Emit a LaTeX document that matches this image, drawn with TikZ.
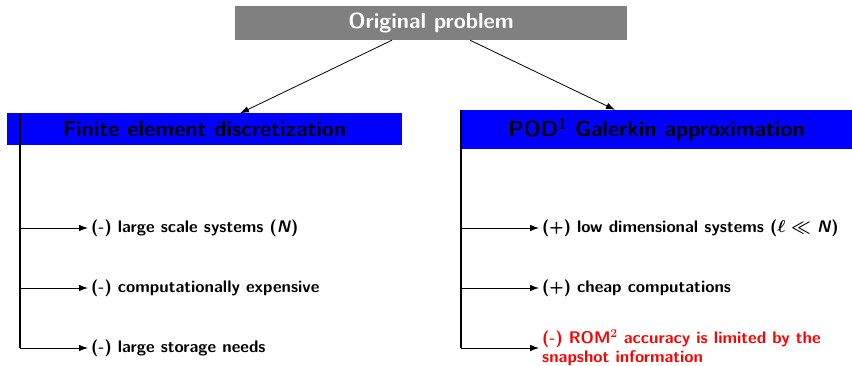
\documentclass[tikz,border=0pt]{standalone}
\usepackage{amsmath}
\usetikzlibrary{arrows.meta}
\begin{document}
\begin{tikzpicture}[x=1pt,y=-1pt,
  titlebox/.style={rectangle, inner sep=0pt, font=\fontsize{21.8}{26}\selectfont\sffamily\bfseries},
  item/.style={anchor=west, inner sep=3pt, font=\fontsize{16.8}{19}\selectfont\sffamily\bfseries, align=left},
  conn/.style={-{Latex[length=9pt,width=6.5pt]}, line width=0.8pt},
  trunk/.style={line width=1.3pt}]
\useasboundingbox (0,0) rectangle (852,366);
\node[titlebox, fill=gray, text=white, minimum width=392pt, minimum height=34pt] (orig) at (431,23) {Original problem};
\node[titlebox, fill=blue, text=black, minimum width=395pt, minimum height=32pt] (fem) at (204.5,129.5) {Finite element discretization};
\node[titlebox, fill=blue, text=black, minimum width=391pt, minimum height=39pt] (pod) at (656.5,129.5) {POD\textsuperscript{1} Galerkin approximation};
\draw[conn] ([xshift=-39pt]orig.south) -- ([xshift=35.5pt]fem.north);
\draw[conn] ([xshift=39pt]orig.south) -- ([xshift=-41.5pt]pod.north);
\coordinate (lt) at (20,113);
\coordinate (rt) at (461,110);
\node[item] (l1) at (88,228) {(-) large scale systems (\textit{N})};
\node[item] (l2) at (88,288) {(-) computationally expensive};
\node[item] (l3) at (88,348) {(-) large storage needs};
\node[item] (r1) at (539,228) {(+) low dimensional systems ($\boldsymbol{\ell \ll}$ \textit{N})};
\node[item] (r2) at (539,288) {(+) cheap computations};
\node[item, text=red] (r3) at (539,348) {(-) ROM$^{\mathbf{2}}$ accuracy is limited by the\\snapshot information};
\draw[trunk] (lt) -- (lt |- l3.west);
\draw[trunk] (rt) -- (rt |- r3.west);
\draw[conn] (lt |- l1.west) -- (l1.west);
\draw[conn] (lt |- l2.west) -- (l2.west);
\draw[conn] (lt |- l3.west) -- (l3.west);
\draw[conn] (rt |- r1.west) -- (r1.west);
\draw[conn] (rt |- r2.west) -- (r2.west);
\draw[conn] (rt |- r3.west) -- (r3.west);
\end{tikzpicture}
\end{document}
